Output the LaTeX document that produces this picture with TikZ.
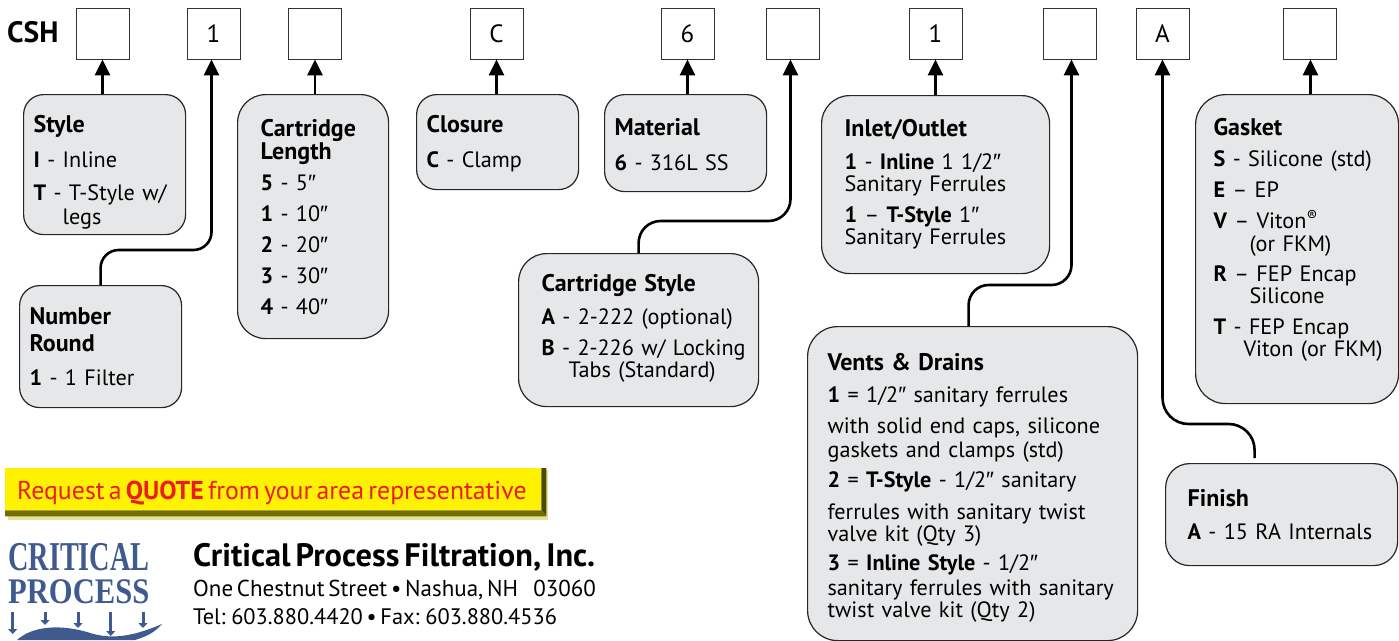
\documentclass[tikz,border=0pt]{standalone}
\usepackage{fontspec}
\setmainfont{PT Sans}[WordSpace=0.62]
\newfontfamily\logofont{Liberation Serif}
\newfontfamily\primefont{Liberation Sans}
\usepackage{xcolor}
\usetikzlibrary{arrows.meta, positioning, calc}
\definecolor{boxgray}{HTML}{E6E7E8}
\definecolor{quoteyellow}{HTML}{FFF200}
\definecolor{quotered}{HTML}{ED1C24}
\definecolor{logoblue}{HTML}{3F5A8E}
\newcommand{\hang}[1]{\hspace*{#1pt}}
\newcommand{\hd}[1]{{\fontsize{24}{24}\selectfont\bfseries #1}}
\newcommand{\inch}{{\primefont ″}}
\newcommand{\lead}[1]{\rule{0pt}{#1pt}}
\newcommand{\trail}[1]{\rule[-#1pt]{0pt}{#1pt}}

\begin{document}
\begin{tikzpicture}[
    x=1pt, y=-1pt,
    slot/.style={rectangle, draw=black!80, line width=0.9pt, minimum width=53pt, minimum height=51pt, inner sep=0pt, font=\fontsize{25}{28}\selectfont},
    box/.style={rectangle, draw=black!85, line width=1.2pt, fill=boxgray, anchor=north west, inner ysep=0pt, align=left, font=\fontsize{22.2}{24}\selectfont},
    arrow/.style={-{Triangle[length=16pt, width=15pt]}, line width=2.6pt},
    info/.style={anchor=base west, inner sep=0pt, font=\fontsize{22.4}{24}\selectfont}
]
\useasboundingbox (0,0) rectangle (1399,640);

% Code slots
\node[anchor=base west, inner sep=0pt, font=\fontsize{29.5}{30}\selectfont\bfseries] (csh) at (7,42) {CSH};
\node[slot] (slotA) at (102.5,33.5) {};
\node[slot] (slotB) at (213.5,33.5) {1};
\node[slot] (slotC) at (315,33.5) {};
\node[slot] (slotD) at (496.5,33.5) {C};
\node[slot] (slotE) at (687.5,33.5) {6};
\node[slot] (slotF) at (792.5,33.5) {};
\node[slot] (slotG) at (935.5,33.5) {1};
\node[slot] (slotH) at (1069.5,33.5) {};
\node[slot] (slotI) at (1162.5,33.5) {A};
\node[slot] (slotJ) at (1309.5,33.5) {};

% Option boxes
\node[box, rounded corners=20pt, minimum width=162pt, minimum height=140pt, text width=142pt, inner xsep=10pt] (style) at (23,94)
  {\lead{33}\hd{Style}\\[11pt]\textbf{I} - Inline\\[9pt]\textbf{T} - T-Style w/\\\hang{29}legs};
\node[box, rounded corners=20pt, minimum width=162pt, minimum height=122pt, text width=142pt, inner xsep=10pt] (round) at (19,285)
  {\hd{Number}\\[3pt]\hd{Round}\\[10pt]\textbf{1} - 1 Filter};
\node[box, rounded corners=28pt, minimum width=151pt, minimum height=244pt, text width=105pt, inner xsep=23pt] (length) at (237,94)
  {\hd{Cartridge}\\[-1pt]\hd{Length}\\[7pt]\textbf{5} - 5\inch\\[7pt]\textbf{1} - 10\inch\\[7pt]\textbf{2} - 20\inch\\[7pt]\textbf{3} - 30\inch\\[7pt]\textbf{4} - 40\inch};
\node[box, rounded corners=20pt, minimum width=162pt, minimum height=95pt, text width=142pt, inner xsep=10pt] (closure) at (416,94)
  {\lead{21}\hd{Closure}\\[11pt]\textbf{C} - Clamp};
\node[box, rounded corners=20pt, minimum width=162pt, minimum height=97pt, text width=142pt, inner xsep=10pt] (material) at (604,94)
  {\lead{20}\hd{Material}\\[11pt]\textbf{6} - 316L SS};
\node[box, rounded corners=28pt, minimum width=228pt, minimum height=178pt, text width=182pt, inner xsep=23pt] (inlet) at (821,95)
  {\hd{Inlet/Outlet}\\[9pt]\textbf{1} - \textbf{Inline} 1 1/2\inch\\[-2pt]Sanitary Ferrules\\[7pt]\textbf{1} – \textbf{T-Style} 1\inch\\[-2pt]Sanitary Ferrules};
\node[box, rounded corners=30pt, minimum width=203pt, minimum height=309pt, text width=167pt, inner xsep=18pt] (gasket) at (1195,94)
  {\hd{Gasket}\\[7pt]\textbf{S} - Silicone (std)\\[7pt]\textbf{E} – EP\\[7pt]\textbf{V} – Viton\textsuperscript{®}\\[-1pt]\hang{36}(or FKM)\\[6pt]\textbf{R} – FEP Encap\\[-2pt]\hang{36}Silicone\\[7pt]\textbf{T} - FEP Encap\\[-2pt]\mbox{\hang{30}Viton (or FKM)}\trail{23}};
\node[box, rounded corners=28pt, minimum width=240pt, minimum height=153pt, text width=194pt, inner xsep=23pt] (cartstyle) at (518,253)
  {\hd{Cartridge Style}\\[9pt]\textbf{A} - 2-222 (optional)\\[7pt]\mbox{\textbf{B} - 2-226 w/ Locking}\\[-2pt]\hang{27}Tabs (Standard)\trail{9}};
\node[box, rounded corners=30pt, minimum width=330pt, minimum height=314pt, text width=290pt, inner xsep=20pt] (vents) at (807,326)
  {\lead{26}\hd{Vents \& Drains}\\[8pt]\textbf{1} = 1/2\inch\ sanitary ferrules\\[7pt]with solid end caps, silicone\\gaskets and clamps (std)\\[6pt]\textbf{2} = \textbf{T-Style} - 1/2\inch\ sanitary\\[8pt]ferrules with sanitary twist\\[-2pt]valve kit (Qty 3)\\[5pt]\textbf{3} = \textbf{Inline Style} - 1/2\inch\\[1pt]\mbox{sanitary ferrules with sanitary}\\[-2pt]twist valve kit (Qty 2)};
\node[box, rounded corners=24pt, minimum width=232pt, minimum height=102pt, text width=188pt, inner xsep=22pt] (finish) at (1165,463)
  {\hd{Finish}\\[9pt]\textbf{A} - 15 RA Internals};

% Arrows
\draw[arrow] (slotA.south |- style.north) -- (slotA.south);
\draw[arrow, rounded corners=18pt] (round.north) -- ++(0,-35) -| ($(slotB.south)+(-2,0)$);
\draw[arrow] (slotC.south |- length.north) -- (slotC.south);
\draw[arrow] (slotD.south |- closure.north) -- (slotD.south);
\draw[arrow] (slotE.south |- material.north) -- (slotE.south);
\draw[arrow, rounded corners=22pt] (cartstyle.north) -- ++(0,-32) -| ($(slotF.south)+(-2,0)$);
\draw[arrow] (slotG.south |- inlet.north) -- (slotG.south);
\draw[arrow, rounded corners=20pt] ($(vents.north)+(-4,0)$) -- ++(0,-41) -| ($(slotH.south)+(2,0)$);
\draw[arrow, rounded corners=26pt] ($(finish.north)+(-27,-5)$) -- ++(0,-34) -| (slotI.south);
\draw[arrow] ($(slotJ.south |- gasket.north)+(1,0)$) -- ($(slotJ.south)+(1,0)$);

% Quote banner
\fill[black!25!quoteyellow!40] (8,514) rectangle (548,520);
\fill[black!25!quoteyellow!40] (546,470) rectangle (548,520);
\node[anchor=north west, fill=quoteyellow, minimum width=536pt, minimum height=42pt, inner sep=0pt] (quote) at (5,468) {};
\fill[black!70!quoteyellow] (quote.north east) -- ++(5,0) -- ++(0,48) -- (quote.south east) -- cycle;
\fill[black!55!quoteyellow] (quote.south east) -- ++(5,6) -| (quote.south west) -- cycle;
\node[anchor=base west, inner sep=0pt, text=quotered, font=\fontsize{25.8}{28}\selectfont] (quotetext) at (17,499) {Request a \textbf{QUOTE} from your area representative};

% Logo
\node[anchor=base west, inner sep=0pt, text=logoblue, font=\fontsize{41}{41}\selectfont\logofont\bfseries] (logotop) at (8,570) {\scalebox{.69}[1]{CRITICAL}};
\node[anchor=base west, inner sep=0pt, text=logoblue, font=\fontsize{36}{36}\selectfont\logofont\bfseries] (logobottom) at (8,603) {\scalebox{.85}[1]{PROCESS}};
\foreach \x/\yb in {12.7/634, 45/625, 78/628, 110.7/636, 143/628}
  \draw[-{Triangle[length=5pt, width=9pt]}, logoblue, line width=3pt] (\x,612) -- (\x,\yb);
\fill[logoblue] (17,640) .. controls (30,628) and (55,623) .. (87,632) .. controls (105,638) and (125,640) .. (162,624) .. controls (155,632) and (148,636) .. (135,640) -- cycle;

% Address
\node[info, font=\fontsize{32.4}{34}\selectfont\bfseries] (company) at (193,566) {Critical Process Filtration, Inc.};
\node[info, font=\fontsize{23}{24}\selectfont] (street) at (193,596) {One Chestnut Street\ • Nashua, NH\ \ \ \ 03060};
\node[info] (phone) at (193,624) {Tel: 603.880.4420 • Fax: 603.880.4536};
\end{tikzpicture}
\end{document}
